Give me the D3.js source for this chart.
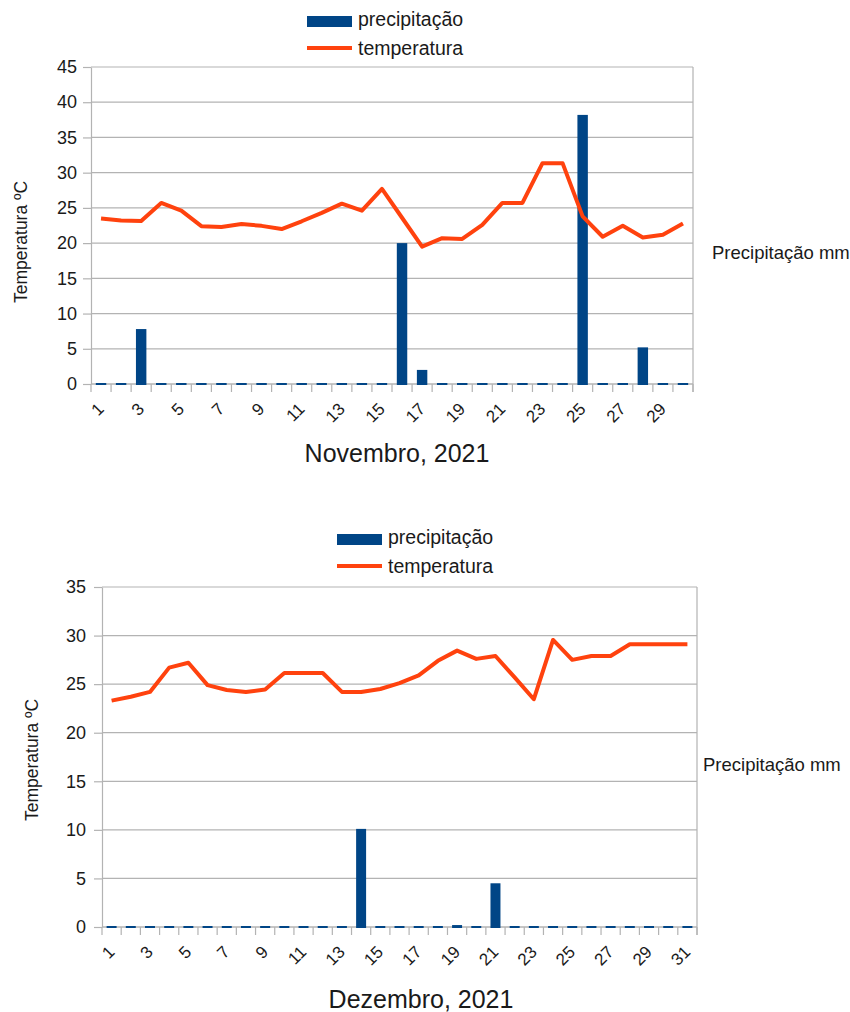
<!DOCTYPE html>
<html>
<head>
<meta charset="utf-8">
<script src="https://cdn.jsdelivr.net/npm/d3@7"></script>
<style>
  body { margin: 0; background: #fff; }
  text { font-family: "Liberation Sans", Arial, sans-serif; fill: #1a1a1a; }
</style>
</head>
<body>
<div id="chart"></div>
<script>
// ---- Novembro 2021 ----
const novDays = ["1","2","3","4","5","6","7","8","9","10","11","12","13","14","15",
                 "16","17","18","19","20","21","22","23","24","25","26","27","28","29","30"];
const novPrecip = [0, 0, 7.8, 0, 0, 0, 0, 0, 0, 0, 0, 0, 0, 0, 0,
                   20, 2, 0, 0, 0, 0, 0, 0, 0, 38.2, 0, 0, 5.2, 0, 0];
const novTemp = [23.5, 23.2, 23.15, 25.7, 24.6, 22.4, 22.3, 22.7, 22.45, 22.0, 23.1, 24.3, 25.6, 24.6, 27.7,
                 23.6, 19.5, 20.7, 20.6, 22.6, 25.7, 25.7, 31.35, 31.35, 23.8, 20.9, 22.45, 20.8, 21.2, 22.8];
const novTicks = [0, 5, 10, 15, 20, 25, 30, 35, 40, 45];

// ---- Dezembro 2021 ----
const decDays = ["1","2","3","4","5","6","7","8","9","10","11","12","13","14","15","16",
                 "17","18","19","20","21","22","23","24","25","26","27","28","29","30","31"];
const decPrecip = [0, 0, 0, 0, 0, 0, 0, 0, 0, 0, 0, 0, 0, 10.1, 0, 0,
                   0, 0, 0.2, 0, 4.5, 0, 0, 0, 0, 0, 0, 0, 0, 0, 0];
const decTemp = [23.3, 23.7, 24.2, 26.7, 27.2, 24.9, 24.4, 24.2, 24.45, 26.15, 26.15, 26.15, 24.2, 24.2, 24.5, 25.1,
                 25.9, 27.4, 28.45, 27.6, 27.9, 25.7, 23.45, 29.55, 27.5, 27.9, 27.9, 29.1, 29.1, 29.1, 29.1];
const decTicks = [0, 5, 10, 15, 20, 25, 30, 35];

const BLUE = "#004586", ORANGE = "#ff420e", GRID = "#b3b3b3";

const svg = d3.select("#chart").append("svg")
    .attr("width", 850)
    .attr("height", 1012);

function drawChart(c) {
    const g = svg.append("g");

    const x = d3.scaleBand().domain(c.days).range([c.left, c.right]).padding(0);
    const y = d3.scaleLinear().domain([0, d3.max(c.ticks)]).range([c.bottom, c.top]);
    const bw = x.bandwidth();
    const y0 = y(0);

    // grid lines
    g.selectAll(".grid").data(c.ticks).enter().append("line")
        .attr("x1", c.left).attr("x2", c.right)
        .attr("y1", d => y(d)).attr("y2", d => y(d))
        .attr("stroke", GRID).attr("stroke-width", 1.2);

    // right border
    g.append("line")
        .attr("x1", c.right).attr("x2", c.right)
        .attr("y1", c.top).attr("y2", y0 + 8)
        .attr("stroke", GRID).attr("stroke-width", 1.2);

    // y axis
    const yAxis = g.append("g")
        .attr("transform", `translate(${c.left},0)`)
        .call(d3.axisLeft(y).tickValues(c.ticks).tickSizeInner(8).tickSizeOuter(0).tickPadding(c.tickPad));
    yAxis.select(".domain").attr("stroke", GRID).attr("stroke-width", 1.2);
    yAxis.selectAll(".tick line").attr("stroke", GRID).attr("stroke-width", 1.2);
    yAxis.selectAll("text").style("font-size", "18px").style("font-family", "Liberation Sans").attr("fill", "#1a1a1a");

    // x axis: ticks at category boundaries
    const bounds = c.days.map(d => x(d)).concat([x.range()[1]]);
    g.selectAll(".xtick").data(bounds).enter().append("line")
        .attr("x1", d => d).attr("x2", d => d)
        .attr("y1", y0).attr("y2", y0 + 8)
        .attr("stroke", GRID).attr("stroke-width", 1.2);
    g.append("line")
        .attr("x1", c.left).attr("x2", c.right)
        .attr("y1", y0).attr("y2", y0)
        .attr("stroke", GRID).attr("stroke-width", 1.2);

    // x labels (odd days), rotated
    g.selectAll(".xlab").data(c.days.filter((d, i) => i % 2 === 0)).enter().append("text")
        .attr("transform", d => `translate(${x(d) + bw / 2 + 4},${y0 + 26}) rotate(-45)`)
        .attr("text-anchor", "end")
        .style("font-size", "17px")
        .text(d => d);

    // bars
    const bars = c.days.map((d, i) => ({day: d, v: c.precip[i]}));
    g.selectAll(".bar").data(bars).enter().append("rect")
        .attr("x", d => x(d.day) + bw * 0.24)
        .attr("width", bw * 0.52)
        .attr("y", d => Math.min(y(d.v), y0 - 1))
        .attr("height", d => Math.max(y0 - y(d.v), 1) + 1)
        .attr("fill", BLUE);

    // temperature line
    const line = d3.line()
        .x((d, i) => x(c.days[i]) + bw / 2)
        .y(d => y(d));
    g.append("path")
        .datum(c.temp)
        .attr("d", line)
        .attr("fill", "none")
        .attr("stroke", ORANGE)
        .attr("stroke-width", 4)
        .attr("stroke-linejoin", "round");

    // axis titles
    g.append("text")
        .attr("x", c.xTitleX).attr("y", c.xTitleY)
        .attr("text-anchor", "middle")
        .style("font-size", "25px")
        .text(c.xTitle);

    g.append("text")
        .attr("transform", `translate(${c.yTitleX},${c.yTitleY}) rotate(-90)`)
        .attr("text-anchor", "middle")
        .style("font-size", "17.5px")
        .text("Temperatura ºC");

    g.append("text")
        .attr("x", c.y2TitleX).attr("y", c.y2TitleY)
        .style("font-size", "18.5px")
        .text("Precipitação mm");

    // legend
    const lg = g.append("g").attr("transform", `translate(${c.legX},${c.legY})`);
    lg.append("rect").attr("x", 0).attr("y", 0).attr("width", 45).attr("height", 11).attr("fill", BLUE);
    lg.append("text").attr("x", 51).attr("y", 10).style("font-size", "19.5px").text("precipitação");
    lg.append("line").attr("x1", 0).attr("x2", 45).attr("y1", 32).attr("y2", 32)
        .attr("stroke", ORANGE).attr("stroke-width", 4);
    lg.append("text").attr("x", 51).attr("y", 39).style("font-size", "19.5px").text("temperatura");
}

drawChart({
    days: novDays, precip: novPrecip, temp: novTemp, ticks: novTicks,
    left: 91, right: 693, top: 67, bottom: 384, tickPad: 6,
    xTitle: "Novembro, 2021", xTitleX: 397, xTitleY: 462,
    yTitleX: 27, yTitleY: 242,
    y2TitleX: 712, y2TitleY: 259,
    legX: 307, legY: 16
});

drawChart({
    days: decDays, precip: decPrecip, temp: decTemp, ticks: decTicks,
    left: 102, right: 697, top: 587, bottom: 927, tickPad: 8,
    xTitle: "Dezembro, 2021", xTitleX: 421, xTitleY: 1008,
    yTitleX: 38, yTitleY: 760,
    y2TitleX: 703, y2TitleY: 771,
    legX: 337, legY: 534
});
</script>
</body>
</html>
